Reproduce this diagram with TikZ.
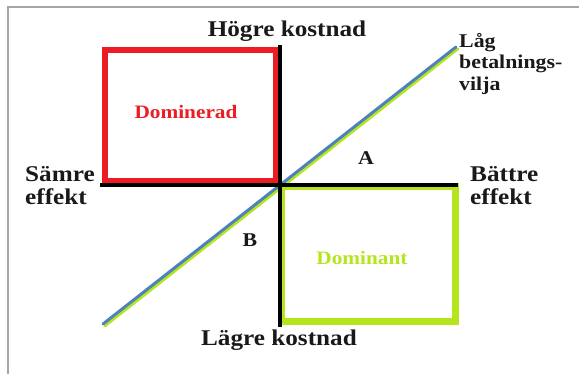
\documentclass[tikz,border=0pt]{standalone}
\usepackage{fontspec}
\setmainfont{Liberation Serif}[FakeStretch=1.12]
\definecolor{domred}{HTML}{EC1C24}
\definecolor{domgreen}{HTML}{B5E61D}
\definecolor{wtpblue}{HTML}{4F81BD}
\definecolor{framegray}{HTML}{A6A6A6}
\tikzset{
  lbl/.style={font=\bfseries\fontsize{22.5}{23}\selectfont, inner sep=0pt, text=black!90},
  small/.style={font=\bfseries\fontsize{19.5}{21.5}\selectfont, inner sep=0pt, text=black!90},
  region/.style={font=\bfseries\fontsize{19}{20}\selectfont, inner sep=0pt},
  axis/.style={line width=4pt, black},
}
\begin{document}
\begin{tikzpicture}[x=1pt,y=-1pt]
\useasboundingbox (0,0) rectangle (579,374);
% page frame
\draw[framegray, line width=2pt] (8,374) -- (8,7) -- (579,7);
% quadrant boxes
\draw[domred, line width=6pt] (105,50) rectangle (276,181);
\draw[domgreen, line width=7pt] (281.5,187) rectangle (455,322);
% willingness-to-pay line with its green edge
\coordinate (wl) at (103,324);
\coordinate (wh) at (456,47);
\draw[domgreen, line width=3pt, line cap=round] ([shift={(1.8,1.8)}]wl) -- ([shift={(1.8,1.8)}]wh);
\draw[wtpblue, line width=3pt, line cap=round] (wl) -- (wh);
% axes
\coordinate (top) at (279.5,45);
\coordinate (bot) at (279.5,327);
\coordinate (lft) at (100,185);
\coordinate (rgt) at (458,185);
\draw[axis] (top) -- (bot);
\draw[axis] (lft) -- (rgt);
% labels
\node[lbl] (hk) at (287,31) {Högre kostnad};
\node[lbl] (lk) at (279,340) {Lägre kostnad};
\node[lbl, align=left, anchor=north west] (se) at (25,166) {Sämre\\effekt};
\node[lbl, align=left, anchor=north west] (be) at (470,166) {Bättre\\effekt};
\node[small, align=left, anchor=north west] (lb) at (459,33) {Låg\\betalnings-\\vilja};
\node[small] (a) at (366,158) {A};
\node[small] (b) at (250,240) {B};
\node[region, text=domred] (dr) at (186,112) {Dominerad};
\node[region, text=domgreen] (dt) at (362,258) {Dominant};
\end{tikzpicture}
\end{document}
